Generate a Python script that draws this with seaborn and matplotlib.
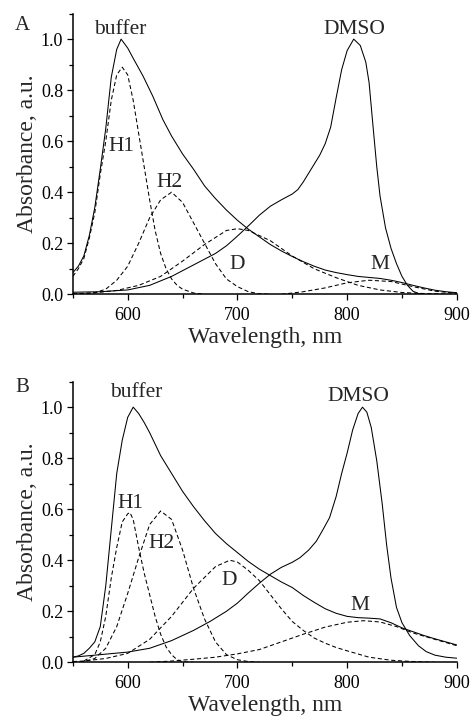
import matplotlib
matplotlib.use("Agg")
import matplotlib.pyplot as plt
import seaborn as sns
import numpy as np
from matplotlib.ticker import MultipleLocator, FormatStrFormatter

# ---------------- data: panel A ----------------
wl_buffer_A = [550, 555, 560, 565, 570, 575, 580, 585, 590, 594, 600, 605, 614, 623, 632, 640, 650, 660,
               670, 680, 690, 700, 710, 720, 730, 740, 750, 760, 770, 780, 790, 800, 810, 820, 830, 840,
               850, 860, 870, 880, 890, 900]
abs_buffer_A = [0.085, 0.11, 0.15, 0.23, 0.34, 0.49, 0.65, 0.85, 0.96, 1.0, 0.965, 0.925, 0.855, 0.775,
                0.685, 0.62, 0.55, 0.49, 0.425, 0.375, 0.33, 0.29, 0.255, 0.225, 0.195, 0.17, 0.148, 0.128,
                0.11, 0.095, 0.085, 0.077, 0.07, 0.066, 0.062, 0.055, 0.046, 0.035, 0.025, 0.016, 0.01,
                0.006]

wl_dmso_A = [550, 575, 600, 620, 640, 660, 680, 690, 700, 710, 720, 730, 740, 750, 755, 760, 765, 770, 775,
             780, 785, 790, 795, 800, 806, 812, 817, 820, 824, 827, 830, 835, 840, 845, 850, 855, 860, 865, 870]
abs_dmso_A = [0.008, 0.01, 0.017, 0.035, 0.07, 0.115, 0.16, 0.19, 0.228, 0.268, 0.31, 0.345, 0.37, 0.393,
              0.41, 0.44, 0.475, 0.51, 0.545, 0.59, 0.655, 0.77, 0.88, 0.955, 1.0, 0.975, 0.91, 0.83, 0.64,
              0.5, 0.385, 0.26, 0.18, 0.12, 0.07, 0.035, 0.012, 0.003, 0.0]

wl_h1_A = [550, 555, 560, 565, 570, 575, 580, 585, 590, 595, 600, 605, 610, 615, 620, 625, 630, 635, 640,
           645, 650, 660, 670]
abs_h1_A = [0.07, 0.1, 0.14, 0.22, 0.32, 0.47, 0.6, 0.76, 0.86, 0.89, 0.86, 0.76, 0.63, 0.5, 0.37, 0.25,
            0.16, 0.1, 0.06, 0.035, 0.02, 0.005, 0.0]

wl_h2_A = [550, 560, 570, 580, 590, 600, 610, 620, 630, 640, 650, 660, 670, 680, 690, 700, 710, 720, 730]
abs_h2_A = [0.0, 0.002, 0.006, 0.02, 0.055, 0.11, 0.2, 0.3, 0.37, 0.40, 0.36, 0.28, 0.2, 0.12, 0.06, 0.03,
            0.01, 0.002, 0.0]

wl_d_A = [550, 570, 590, 610, 630, 650, 670, 690, 700, 710, 730, 750, 770, 790, 810, 830, 850, 870, 900]
abs_d_A = [0.002, 0.006, 0.015, 0.035, 0.07, 0.13, 0.195, 0.25, 0.257, 0.25, 0.21, 0.15, 0.1, 0.065,
           0.035, 0.017, 0.007, 0.003, 0.0]

wl_m_A = [740, 760, 780, 800, 820, 840, 860, 880, 900]
abs_m_A = [0.0, 0.01, 0.025, 0.045, 0.055, 0.05, 0.03, 0.012, 0.004]

# ---------------- data: panel B ----------------
wl_buffer_B = [550, 555, 560, 565, 570, 575, 580, 585, 590, 595, 600, 605, 610, 615, 620, 630, 640,
               650, 660, 670, 680, 690, 700, 710, 720, 730, 740, 750, 760, 770, 780, 790, 800, 810, 820,
               830, 840, 850, 860, 870, 880, 890, 900]
abs_buffer_B = [0.02, 0.025, 0.035, 0.055, 0.08, 0.14, 0.3, 0.52, 0.74, 0.87, 0.96, 1.0, 0.975, 0.94,
                0.9, 0.81, 0.74, 0.67, 0.61, 0.555, 0.505, 0.465, 0.43, 0.395, 0.365, 0.34, 0.315,
                0.293, 0.262, 0.235, 0.21, 0.192, 0.18, 0.175, 0.173, 0.17, 0.155, 0.135, 0.12, 0.105,
                0.092, 0.08, 0.068]

wl_dmso_B = [550, 575, 600, 620, 640, 660, 675, 690, 700, 710, 720, 730, 740, 750, 757, 765, 772, 778, 784,
             790, 795, 800, 805, 810, 814, 818, 822, 827, 832, 836, 840, 845, 850, 857, 865, 872, 880, 890, 900]
abs_dmso_B = [0.02, 0.03, 0.04, 0.055, 0.085, 0.125, 0.16, 0.2, 0.232, 0.272, 0.31, 0.345, 0.372, 0.392,
              0.41, 0.44, 0.475, 0.52, 0.567, 0.65, 0.74, 0.82, 0.91, 0.975, 1.0, 0.98, 0.92, 0.79, 0.62,
              0.46, 0.33, 0.215, 0.155, 0.105, 0.065, 0.042, 0.028, 0.02, 0.016]

wl_h1_B = [560, 570, 575, 580, 585, 590, 595, 600, 602, 605, 610, 615, 620, 625, 630, 635, 640, 645, 650, 660]
abs_h1_B = [0.005, 0.03, 0.08, 0.18, 0.33, 0.45, 0.55, 0.582, 0.587, 0.56, 0.45, 0.35, 0.265, 0.18, 0.11,
            0.06, 0.03, 0.01, 0.002, 0.0]

wl_h2_B = [550, 560, 570, 580, 590, 600, 610, 620, 630, 640, 650, 660, 670, 680, 690, 700, 710, 720]
abs_h2_B = [0.0, 0.003, 0.015, 0.055, 0.14, 0.27, 0.41, 0.54, 0.593, 0.56, 0.44, 0.29, 0.17, 0.08, 0.03,
            0.01, 0.003, 0.0]

wl_d_B = [550, 560, 580, 600, 620, 640, 660, 680, 693, 700, 710, 720, 730, 740, 750, 760, 770, 780, 790,
          800, 820, 840, 860, 880]
abs_d_B = [0.003, 0.005, 0.015, 0.035, 0.09, 0.18, 0.29, 0.375, 0.4, 0.393, 0.36, 0.32, 0.265, 0.21, 0.16,
           0.125, 0.095, 0.075, 0.058, 0.045, 0.02, 0.008, 0.003, 0.0]

wl_m_B = [620, 640, 660, 680, 700, 720, 740, 760, 780, 800, 815, 830, 845, 860, 880, 900]
abs_m_B = [0.0, 0.005, 0.012, 0.02, 0.033, 0.05, 0.08, 0.11, 0.138, 0.157, 0.163, 0.158, 0.14, 0.115,
           0.09, 0.065]

band_labels = ["buffer", "DMSO", "H1", "H2", "D", "M"]
label_pos_A = [(593, 1.02), (807, 1.02), (594, 0.563), (638, 0.422), (700, 0.098), (830, 0.098)]
label_pos_B = [(608, 1.04), (810, 1.026), (602.6, 0.606), (631, 0.449), (692.5, 0.304), (812, 0.206)]

# ---------------- style ----------------
sns.set_style("ticks")
plt.rcParams['font.family'] = ['Liberation Serif', 'DejaVu Serif']
plt.rcParams['axes.linewidth'] = 1.1
plt.rcParams['xtick.major.width'] = 0.9
plt.rcParams['ytick.major.width'] = 0.9
plt.rcParams['xtick.minor.width'] = 0.9
plt.rcParams['ytick.minor.width'] = 0.9
plt.rcParams['xtick.color'] = 'black'
plt.rcParams['ytick.color'] = 'black'
plt.rcParams['axes.edgecolor'] = 'black'

fig = plt.figure(figsize=(4.7, 7.16), dpi=100)
axA = fig.add_axes([0.155, 0.589, 0.817, 0.392])
axB = fig.add_axes([0.155, 0.075, 0.817, 0.392])

solid_kw = dict(color='black', linewidth=0.75)
dash_kw = dict(color='black', linewidth=0.75, linestyle=(0, (4, 2.5)))


def draw(ax, series_solid, series_dash, label_pos, letter, letter_y):
    for wl, ab in series_solid:
        sns.lineplot(x=wl, y=ab, ax=ax, **solid_kw)
    for wl, ab in series_dash:
        sns.lineplot(x=wl, y=ab, ax=ax, **dash_kw)
    ax.set_xlim(550, 900)
    ax.set_ylim(0, 1.1)
    ax.xaxis.set_major_locator(MultipleLocator(100))
    ax.xaxis.set_minor_locator(MultipleLocator(50))
    ax.yaxis.set_major_locator(MultipleLocator(0.2))
    ax.yaxis.set_minor_locator(MultipleLocator(0.1))
    ax.yaxis.set_major_formatter(FormatStrFormatter('%.1f'))
    ax.tick_params(axis='both', which='major', direction='out', length=4, labelsize=13)
    ax.tick_params(axis='both', which='minor', direction='out', length=3)
    ax.tick_params(axis='x', which='major', pad=5)
    ax.tick_params(axis='y', which='major', pad=3)
    sns.despine(ax=ax)
    ax.set_xlabel("Wavelength, nm", fontsize=17)
    ax.set_ylabel("Absorbance, a.u.", fontsize=17)
    ax.xaxis.set_label_coords(0.5, -49 / 280.7)
    ax.xaxis.label.set_va('baseline')
    ax.yaxis.set_label_coords(-45 / 384.0, 0.5)
    ax.yaxis.label.set_va('center')
    for txt, (x, y) in zip(band_labels, label_pos):
        ax.text(x, y, txt, ha='center', va='baseline', fontsize=15.5)
    fig.text(22 / 470, letter_y, letter, ha='center', va='baseline', fontsize=15)


draw(axA,
     [(wl_buffer_A, abs_buffer_A), (wl_dmso_A, abs_dmso_A)],
     [(wl_h1_A, abs_h1_A), (wl_h2_A, abs_h2_A), (wl_d_A, abs_d_A), (wl_m_A, abs_m_A)],
     label_pos_A, "A", 1 - 30 / 716)
draw(axB,
     [(wl_buffer_B, abs_buffer_B), (wl_dmso_B, abs_dmso_B)],
     [(wl_h1_B, abs_h1_B), (wl_h2_B, abs_h2_B), (wl_d_B, abs_d_B), (wl_m_B, abs_m_B)],
     label_pos_B, "B", 1 - 391.7 / 716)

fig.savefig("out.png", dpi=100)
